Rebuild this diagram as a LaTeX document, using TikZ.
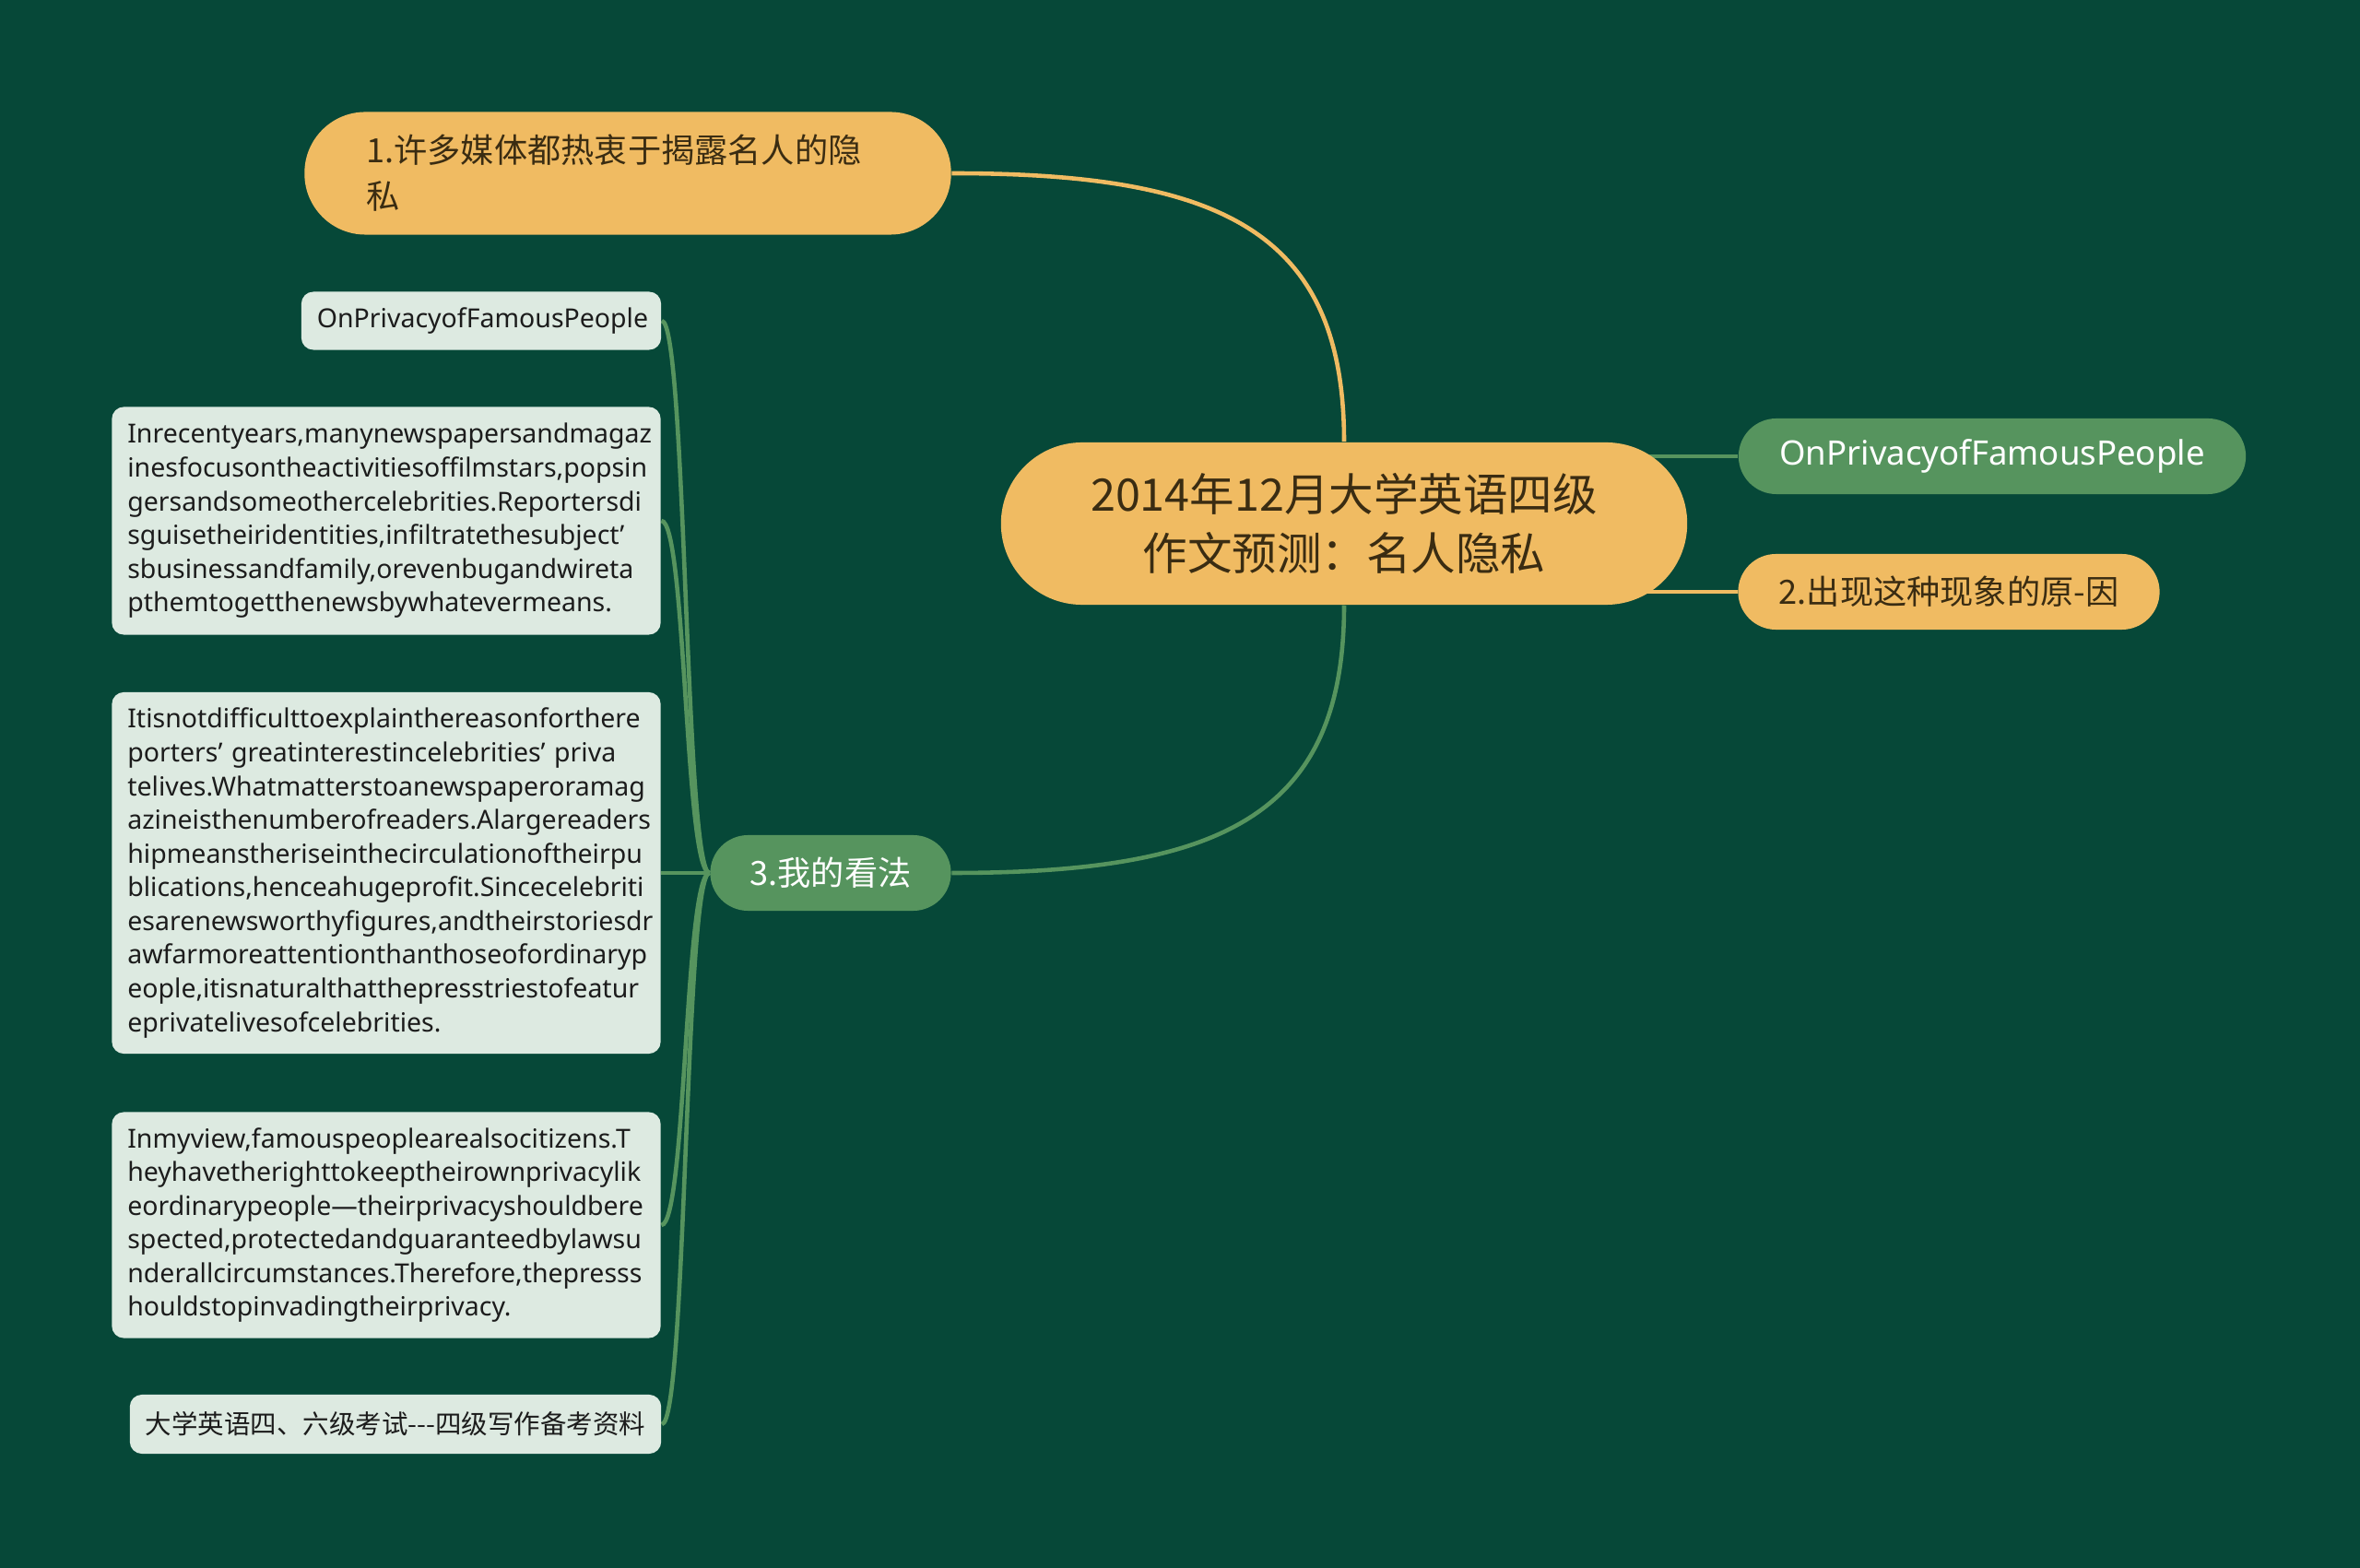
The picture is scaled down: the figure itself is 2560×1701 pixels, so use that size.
\documentclass[tikz,border=0pt]{standalone}
\usepackage{fontspec}
\setmainfont{Noto Sans CJK SC}
\newfontfamily\leaffont{Noto Sans}
\usetikzlibrary{backgrounds}

\definecolor{bgdark}{HTML}{064838}
\definecolor{topicorange}{HTML}{F0BB62}
\definecolor{topicgreen}{HTML}{56945E}
\definecolor{leafmint}{HTML}{DDEAE1}
\definecolor{inkbrown}{HTML}{3A2C12}
\definecolor{inkdark}{HTML}{1C1C1C}

\tikzset{
  rootbox/.style={fill=topicorange, text=inkbrown, rounded corners=0.88cm,
    minimum width=7.44cm, minimum height=1.76cm, inner sep=0pt, align=center,
    font=\fontsize{13.8}{18.2}\selectfont},
  pillbox/.style={rounded corners=0.41cm, minimum height=0.82cm, inner sep=0pt,
    font=\fontsize{10.3}{14}\selectfont},
  orangepill/.style={pillbox, fill=topicorange, text=inkbrown},
  greenpill/.style={pillbox, fill=topicgreen, text=white},
  leafbox/.style={fill=leafmint, text=inkdark, rounded corners=0.13cm,
    inner xsep=0.17cm, inner ysep=0pt, align=left,
    font=\leaffont\fontsize{8.1}{10.4}\selectfont},
  orangelink/.style={draw=topicorange, line width=1.3pt},
  greenlink/.style={draw=topicgreen, line width=1.3pt},
}

\begin{document}
\begin{tikzpicture}[x=0.01cm, y=-0.01cm]
  \useasboundingbox (0,0) rectangle (2560,1701);

  % main topics
  \node[rootbox] (centraltopic) at (1458,568) {2014年12月大学英语四级\\作文预测：名人隐私};
  \node[orangepill, minimum height=1.33cm, rounded corners=0.66cm, text width=5.67cm,
    inner xsep=0.67cm, align=left, font=\fontsize{10.3}{14.2}\selectfont]
    (mediaprivacy) at (681,188) {1.许多媒体都热衷于揭露名人的隐\\私};
  \node[greenpill, minimum width=5.50cm, font=\leaffont\fontsize{10.4}{14}\selectfont]
    (titleright) at (2161,495) {OnPrivacyofFamousPeople};
  \node[orangepill, minimum width=4.57cm] (reasons) at (2114,642) {2.出现这种现象的原-因};
  \node[greenpill, minimum width=2.61cm] (myview) at (901,947) {3.我的看法};

  % leaves of 3
  \node[leafbox, minimum height=0.63cm, text width=3.56cm, inner xsep=0.17cm]
    (leaftitle) at (522,348) {OnPrivacyofFamousPeople};
  \node[leafbox, minimum height=2.47cm, text width=5.61cm] (leafmedia) at (419,565) {%
    Inrecentyears,manynewspapersandmagaz\\
    inesfocusontheactivitiesoffilmstars,popsin\\
    gersandsomeothercelebrities.Reportersdi\\
    sguisetheiridentities,infiltratethesubject’\\
    sbusinessandfamily,orevenbugandwireta\\
    pthemtogetthenewsbywhatevermeans.};
  \node[leafbox, minimum height=3.92cm, text width=5.61cm] (leafreason) at (419,947) {%
    Itisnotdifficulttoexplainthereasonforthere\\
    \makebox[\hsize][s]{porters’ greatinterestincelebrities’ priva}\\
    telives.Whatmatterstoanewspaperoramag\\
    azineisthenumberofreaders.Alargereaders\\
    hipmeanstheriseinthecirculationoftheirpu\\
    blications,henceahugeprofit.Sincecelebriti\\
    esarenewsworthyfigures,andtheirstoriesdr\\
    awfarmoreattentionthanthoseofordinaryp\\
    eople,itisnaturalthatthepresstriestofeatur\\
    eprivatelivesofcelebrities.};
  \node[leafbox, minimum height=2.45cm, text width=5.61cm] (leafview) at (419,1329) {%
    Inmyview,famouspeoplearealsocitizens.T\\
    heyhavetherighttokeeptheirownprivacylik\\
    eordinarypeople—theirprivacyshouldbere\\
    spected,protectedandguaranteedbylawsu\\
    nderallcircumstances.Therefore,thepresss\\
    houldstopinvadingtheirprivacy.};
  \node[leafbox, minimum height=0.64cm, minimum width=5.75cm,
    font=\fontsize{8.1}{10.4}\selectfont]
    (leafsource) at (429,1545) {大学英语四、六级考试-{}-{}-四级写作备考资料};

  \begin{scope}[on background layer]
    \fill[bgdark] (0,0) rectangle (2560,1701);
    \draw[orangelink] (centraltopic.north) .. controls +(0,-230) and +(290,0) .. (mediaprivacy.east);
    \draw[greenlink] (centraltopic.south) .. controls +(0,230) and +(290,0) .. (myview.east);
    \draw[greenlink] (centraltopic.center |- titleright.west) -- (titleright.west);
    \draw[orangelink] (centraltopic.center |- reasons.west) -- (reasons.west);
    \foreach \leaf in {leaftitle,leafmedia,leafreason,leafview,leafsource}
      \draw[greenlink] (myview.west) .. controls +(-27,0) and +(27,0) .. (\leaf.east);
  \end{scope}
\end{tikzpicture}
\end{document}
